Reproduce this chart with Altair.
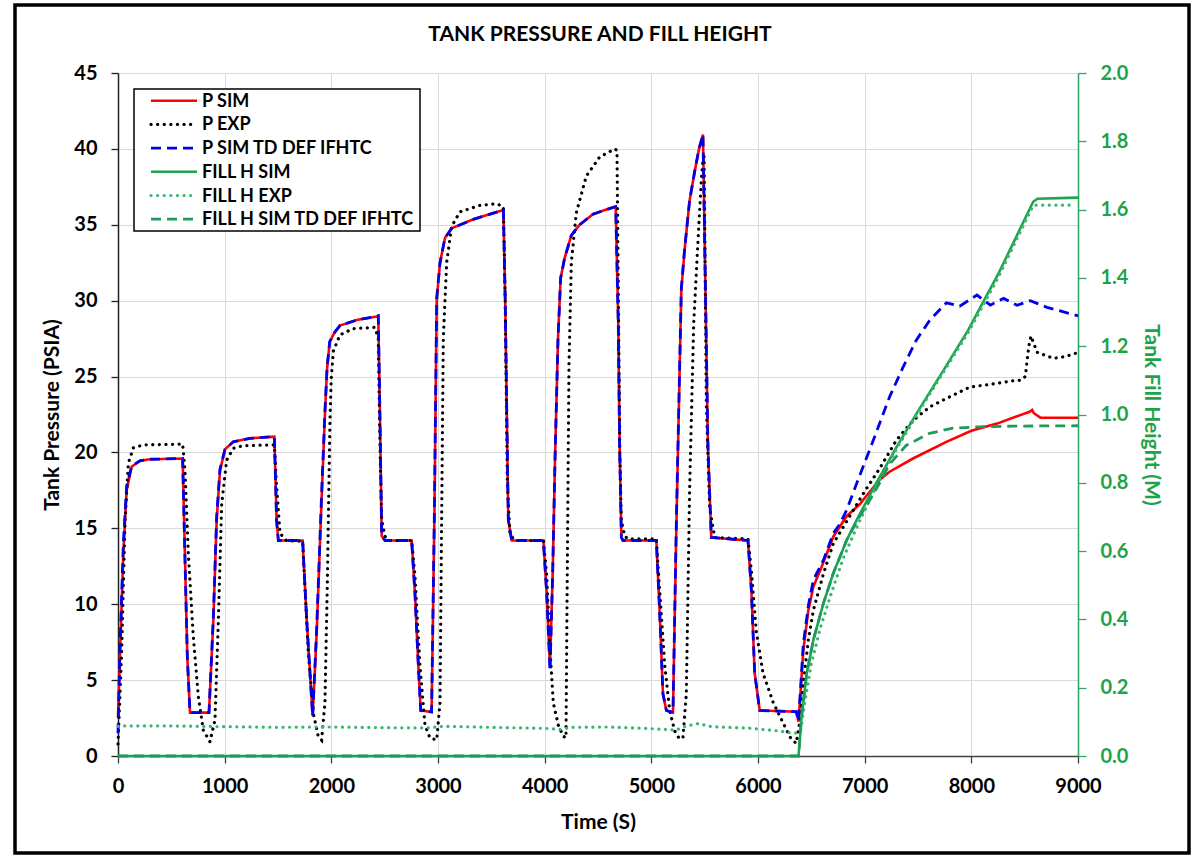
import altair as alt
import pandas as pd

# ---------------- data ----------------
P_SIM_T = [0, 20, 50, 81, 128, 206, 300, 606, 628, 650,
           675, 853, 894, 925, 956, 1003, 1081, 1237, 1466, 1487,
           1503, 1731, 1769, 1825, 1862, 1909, 1940, 1960, 1985, 2030,
           2081, 2237, 2425, 2440, 2455, 2472, 2503, 2753, 2784, 2816,
           2838, 2940, 2966, 2988, 3019, 3066, 3128, 3331, 3613, 3630,
           3659, 3691, 3988, 4019, 4050, 4075, 4097, 4125, 4150, 4187,
           4250, 4328, 4453, 4578, 4666, 4690, 4703, 4719, 4734, 5047,
           5078, 5109, 5141, 5203, 5234, 5281, 5312, 5359, 5406, 5447,
           5484, 5500, 5531, 5562, 5906, 5938, 5969, 6016, 6359, 6380,
           6394, 6425, 6472, 6519, 6597, 6706, 6831, 6956, 7000, 7141,
           7234, 7453, 7766, 8000, 8241, 8459, 8547, 8570, 8584, 8647,
           9000]
P_SIM_V = [2.5, 7.0, 13.4, 17.5, 19.06, 19.45, 19.55, 19.6, 13.0, 6.5,
           2.86, 2.86, 8.96, 15.5, 18.8, 20.2, 20.7, 20.93, 21.04, 15.5,
           14.2, 14.2, 8.96, 2.7, 8.0, 17.0, 22.5, 25.5, 27.3, 27.9,
           28.36, 28.72, 28.96, 29.0, 22.8, 14.5, 14.2, 14.2, 10.7, 5.9,
           3.0, 2.9, 15.6, 30.05, 32.5, 34.15, 34.76, 35.36, 35.97, 30.05,
           15.56, 14.2, 14.2, 10.7, 5.9, 12.0, 19.5, 27.5, 31.5, 32.8,
           34.3, 35.0, 35.7, 36.0, 36.2, 28.5, 20.35, 14.4, 14.2, 14.2,
           9.5, 4.1, 3.0, 2.87, 14.9, 30.65, 33.36, 36.6, 38.5, 40.0,
           40.95, 33.9, 20.35, 14.4, 14.2, 10.9, 5.45, 3.0, 2.92, 2.26,
           3.69, 6.98, 9.6, 11.15, 12.47, 14.45, 15.8, 16.6, 17.0, 18.2,
           18.73, 19.6, 20.7, 21.43, 21.9, 22.46, 22.68, 22.8, 22.6, 22.29,
           22.29]

P_TD_T = [0, 20, 50, 81, 128, 206, 300, 606, 628, 650,
          675, 853, 894, 925, 956, 1003, 1081, 1237, 1466, 1487,
          1503, 1731, 1769, 1825, 1862, 1909, 1940, 1960, 1985, 2030,
          2081, 2237, 2425, 2440, 2455, 2472, 2503, 2753, 2784, 2816,
          2838, 2940, 2966, 2988, 3019, 3066, 3128, 3331, 3613, 3630,
          3659, 3691, 3988, 4019, 4050, 4075, 4097, 4125, 4150, 4187,
          4250, 4328, 4453, 4578, 4666, 4690, 4703, 4719, 4734, 5047,
          5078, 5109, 5141, 5203, 5234, 5281, 5312, 5359, 5406, 5447,
          5484, 5500, 5531, 5562, 5906, 5938, 5969, 6016, 6359, 6380,
          6394, 6425, 6472, 6519, 6613, 6706, 6769, 6831, 6925, 7081,
          7234, 7359, 7484, 7609, 7766, 7891, 8053, 8178, 8303, 8428,
          8553, 8709, 9000]
P_TD_V = [1.5, 7.5, 14.0, 17.8, 19.1, 19.45, 19.55, 19.6, 13.0, 6.5,
          2.86, 2.86, 9.2, 15.8, 18.9, 20.2, 20.7, 20.93, 21.04, 15.5,
          14.2, 14.2, 8.96, 2.6, 8.3, 17.3, 22.7, 25.6, 27.3, 27.9,
          28.36, 28.72, 28.96, 29.0, 22.8, 14.5, 14.2, 14.2, 10.7, 5.9,
          3.0, 2.9, 16.0, 30.2, 32.5, 34.15, 34.76, 35.36, 35.97, 30.05,
          15.56, 14.2, 14.2, 10.7, 5.6, 12.0, 19.5, 27.5, 31.5, 32.8,
          34.3, 35.0, 35.7, 36.0, 36.2, 28.5, 20.35, 14.4, 14.2, 14.2,
          9.5, 4.1, 3.0, 2.87, 15.2, 30.8, 33.4, 36.6, 38.5, 40.0,
          40.95, 33.9, 20.35, 14.4, 14.2, 10.9, 5.45, 3.0, 2.92, 2.3,
          3.9, 7.4, 9.9, 11.6, 12.9, 14.67, 15.3, 16.2, 17.96, 20.8,
          23.67, 25.6, 27.4, 28.7, 29.86, 29.64, 30.37, 29.7, 30.15, 29.7,
          30.0, 29.56, 29.0]

P_EXP_T = [0, 34, 66, 97, 144, 237, 606, 628, 659, 706,
           753, 800, 862, 909, 941, 972, 1019, 1081, 1175, 1466,
           1487, 1519, 1581, 1731, 1784, 1831, 1878, 1909, 1940, 1962,
           1987, 2000, 2020, 2081, 2206, 2409, 2440, 2456, 2472, 2503,
           2550, 2753, 2784, 2831, 2878, 2925, 2988, 3019, 3034, 3050,
           3081, 3128, 3206, 3394, 3550, 3613, 3630, 3650, 3675, 3720,
           3988, 4019, 4050, 4081, 4128, 4175, 4200, 4209, 4228, 4250,
           4297, 4390, 4515, 4656, 4678, 4690, 4705, 4719, 4750, 4780,
           5047, 5078, 5125, 5172, 5219, 5266, 5297, 5328, 5359, 5397,
           5437, 5469, 5484, 5495, 5516, 5547, 5594, 5906, 5938, 5984,
           6047, 6141, 6234, 6312, 6359, 6394, 6425, 6472, 6519, 6613,
           6706, 6800, 6988, 7141, 7297, 7453, 7609, 7766, 7984, 8241,
           8366, 8459, 8506, 8538, 8559, 8616, 8709, 8772, 8866, 8959,
           9000]
P_EXP_V = [0.8, 6.8, 15.5, 19.3, 20.3, 20.5, 20.55, 18.8, 13.4, 7.86,
           3.9, 1.7, 0.94, 2.37, 8.96, 16.6, 19.5, 20.27, 20.45, 20.5,
           17.74, 14.67, 14.18, 14.15, 6.8, 2.8, 1.27, 1.05, 3.5, 11.2,
           22.1, 25.0, 26.7, 27.75, 28.16, 28.24, 27.5, 20.4, 15.56, 14.47,
           14.2, 14.2, 11.9, 5.9, 2.03, 1.18, 1.06, 3.5, 15.6, 27.6,
           32.5, 34.9, 35.85, 36.28, 36.38, 36.2, 30.0, 18.0, 14.6, 14.2,
           14.2, 11.9, 7.1, 3.5, 2.03, 1.3, 1.2, 9.5, 25.8, 32.5,
           35.8, 38.2, 39.46, 40.0, 39.9, 31.2, 20.0, 15.5, 14.5, 14.3,
           14.3, 10.9, 6.0, 3.0, 1.65, 1.1, 1.25, 4.1, 17.6, 28.5,
           33.9, 38.0, 39.3, 39.5, 23.1, 16.3, 14.4, 14.3, 12.2, 8.2,
           5.45, 3.55, 2.2, 1.1, 0.84, 2.37, 4.79, 7.64, 9.6, 12.0,
           14.0, 15.1, 17.3, 18.95, 20.8, 22.1, 23.0, 23.56, 24.3, 24.55,
           24.7, 24.75, 25.0, 26.96, 27.67, 26.6, 26.35, 26.2, 26.3, 26.48,
           26.6]

FILL_SIM_T = [0, 6380, 6410, 6456, 6519, 6613, 6706, 6831, 6940, 7110,
              7300, 7500, 7750, 7970, 8250, 8580, 8620, 9000]
FILL_SIM_V = [0, 0, 0.12, 0.24, 0.34, 0.447, 0.535, 0.632, 0.70, 0.80,
              0.905, 1.01, 1.135, 1.247, 1.41, 1.623, 1.632, 1.635]

FILL_EXP_T = [0, 50, 500, 1000, 1500, 2000, 2500, 2900, 3050, 3500,
              4000, 4150, 4250, 4600, 5000, 5230, 5330, 5440, 5560, 5900,
              6200, 6340, 6380, 6400, 6440, 6500, 6580, 6680, 6800, 6940,
              7110, 7300, 7500, 7750, 7970, 8250, 8560, 8590, 8950]
FILL_EXP_V = [0.087, 0.088, 0.088, 0.086, 0.084, 0.085, 0.083, 0.082, 0.087, 0.084,
              0.081, 0.078, 0.084, 0.085, 0.080, 0.076, 0.088, 0.095, 0.086, 0.082,
              0.073, 0.066, 0.070, 0.075, 0.16, 0.27, 0.37, 0.47, 0.58, 0.68,
              0.79, 0.90, 1.005, 1.13, 1.24, 1.40, 1.60, 1.613, 1.613]

FILL_TD_T = [0, 6380, 6410, 6456, 6519, 6613, 6706, 6831, 6940, 7050,
             7141, 7234, 7391, 7609, 7828, 8078, 8394, 9000]
FILL_TD_V = [0, 0, 0.12, 0.24, 0.34, 0.447, 0.535, 0.632, 0.695, 0.75,
             0.80, 0.855, 0.91, 0.945, 0.96, 0.964, 0.966, 0.967]

SERIES = ["P SIM", "P EXP", "P SIM TD DEF IFHTC",
          "FILL H SIM", "FILL H EXP", "FILL H SIM TD DEF IFHTC"]
X_TICKS = [0, 1000, 2000, 3000, 4000, 5000, 6000, 7000, 8000, 9000]
P_TICKS = [0, 5, 10, 15, 20, 25, 30, 35, 40, 45]
H_TICKS = [0.0, 0.2, 0.4, 0.6, 0.8, 1.0, 1.2, 1.4, 1.6, 1.8, 2.0]

# ---------------- styles ----------------
FONT = "Lato"
W, H = 960, 683
RED, BLACK, BLUE = "#ff0000", "#000000", "#0000e6"
G_SIM, G_EXP, G_TD = "#1fa44e", "#3cb474", "#1f9a5e"
AXIS_GREEN = "#2fa866"
LABEL_GREEN = "#1fa34a"

STYLE = {
    "P SIM": dict(color=RED, strokeWidth=2.6),
    "P EXP": dict(color=BLACK, strokeWidth=3.2, strokeDash=[0.1, 6.5], strokeCap="round"),
    "P SIM TD DEF IFHTC": dict(color=BLUE, strokeWidth=2.8, strokeDash=[10, 6]),
    "FILL H SIM": dict(color=G_SIM, strokeWidth=2.6),
    "FILL H EXP": dict(color=G_EXP, strokeWidth=3.2, strokeDash=[0.1, 6.5], strokeCap="round"),
    "FILL H SIM TD DEF IFHTC": dict(color=G_TD, strokeWidth=2.8, strokeDash=[10, 6]),
}


def frame(t, v):
    return pd.DataFrame({"t": t, "v": v})


x_enc = alt.X(
    "t:Q",
    scale=alt.Scale(domain=[0, 9000], nice=False, zero=False),
    axis=alt.Axis(values=X_TICKS, format="d", title="Time (S)", grid=True,
                  gridColor="#d9d9d9", gridWidth=1, labelPadding=13,
                  labelFlush=False, labelOverlap=False,
                  titlePadding=15, tickSize=7, domainColor="#404040",
                  tickColor="#404040"),
)
yP_enc = alt.Y(
    "v:Q",
    scale=alt.Scale(domain=[0, 45], nice=False, zero=True),
    axis=alt.Axis(orient="left", values=P_TICKS, title="Tank Pressure (PSIA)",
                  grid=True, gridColor="#d9d9d9", gridWidth=1, labelPadding=14,
                  labelFlush=False, labelOverlap=False,
                  titlePadding=11, tickSize=7, domainColor="#202020",
                  tickColor="#202020"),
)
yH_enc = alt.Y(
    "v:Q",
    scale=alt.Scale(domain=[0, 2], nice=False, zero=True),
    axis=alt.Axis(orient="right", values=H_TICKS, format=".1f",
                  title="Tank Fill Height (M)", grid=False, labelPadding=14,
                  labelFlush=False, labelOverlap=False,
                  titlePadding=13, tickSize=8, domainColor=AXIS_GREEN,
                  tickColor=AXIS_GREEN, labelColor=LABEL_GREEN,
                  titleColor=LABEL_GREEN, domainWidth=1.6),
)


def line(t, v, name, yenc):
    return alt.Chart(frame(t, v)).mark_line(**STYLE[name]).encode(x=x_enc, y=yenc)


pressure = alt.layer(
    line(P_SIM_T, P_SIM_V, "P SIM", yP_enc),
    line(P_EXP_T, P_EXP_V, "P EXP", yP_enc),
    line(P_TD_T, P_TD_V, "P SIM TD DEF IFHTC", yP_enc),
)
fill = alt.layer(
    line(FILL_SIM_T, FILL_SIM_V, "FILL H SIM", yH_enc),
    line(FILL_EXP_T, FILL_EXP_V, "FILL H EXP", yH_enc),
    line(FILL_TD_T, FILL_TD_V, "FILL H SIM TD DEF IFHTC", yH_enc),
)

one = pd.DataFrame({"k": [0]})

decor = []
# outer chart border
decor.append(alt.Chart(one).mark_rect(fill=None, stroke="#000000", strokeWidth=3.5).encode(
    x=alt.value(-103), x2=alt.value(1071), y=alt.value(-68), y2=alt.value(780)))
# title
decor.append(alt.Chart(one).mark_text(
    text="TANK PRESSURE AND FILL HEIGHT", font=FONT, fontSize=21, fontWeight="bold",
    align="center", baseline="middle", color="#000000").encode(
    x=alt.value(482), y=alt.value(-38)))
# legend box
decor.append(alt.Chart(one).mark_rect(fill="white", stroke="#000000", strokeWidth=1.5).encode(
    x=alt.value(16), x2=alt.value(302), y=alt.value(16), y2=alt.value(158)))
for i, name in enumerate(SERIES):
    yc = 27.7 + 23.7 * i
    decor.append(alt.Chart(one).mark_rule(**STYLE[name]).encode(
        x=alt.value(33), x2=alt.value(79), y=alt.value(yc)))
    decor.append(alt.Chart(one).mark_text(
        text=name, font=FONT, fontSize=18, fontWeight="bold", align="left",
        baseline="middle", color="#000000").encode(
        x=alt.value(84), y=alt.value(yc + 1)))

chart = alt.layer(pressure, fill, *decor).resolve_scale(y="independent").properties(
    width=W, height=H,
    autosize=alt.AutoSizeParams(type="none"),
    padding={"left": 118, "top": 73, "right": 114, "bottom": 99},
    background="white",
).configure_view(stroke=None).configure_axis(
    labelFont=FONT, labelFontSize=20, labelFontWeight="bold", labelColor="#000000",
    titleFont=FONT, titleFontSize=21, titleFontWeight="bold", titleColor="#000000",
    tickWidth=1.3, domainWidth=1.5,
)

chart.save("out.html", embed_options={"renderer": "svg", "actions": False})
